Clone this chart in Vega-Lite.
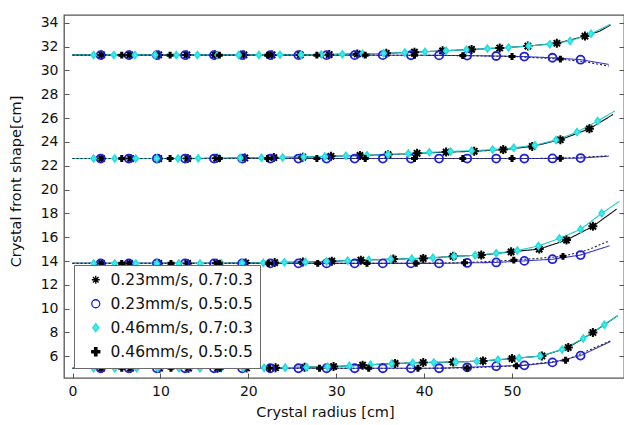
{
  "$schema": "https://vega.github.io/schema/vega-lite/v6.json",
  "width": 560,
  "height": 363,
  "autosize": {"type": "none"},
  "padding": {"left": 64, "top": 15, "right": 0, "bottom": 47},
  "background": "white",
  "config": {
    "font": "DejaVu Sans",
    "view": {"stroke": "#555555", "strokeWidth": 1.3},
    "legend": {"orient": "bottom-left", "offset": 10,
      "labelFontSize": 15.5, "labelColor": "#111111", "labelLimit": 300,
      "symbolSize": 64, "symbolStrokeWidth": 1.3, "symbolOffset": 7, "labelOffset": 7, "rowPadding": 7, "padding": 7,
      "strokeColor": "#6a6a6a", "fillColor": "white", "cornerRadius": 0}
  },
  "datasets": {
    "d": [
      {"s":"A","g":1,"x":0,"y":31.3,"m":0},
      {"s":"A","g":1,"x":3.3,"y":31.3,"m":1},{"s":"A","g":1,"x":6.5,"y":31.3,"m":1},{"s":"A","g":1,"x":9.8,"y":31.3,"m":1},{"s":"A","g":1,"x":13.0,"y":31.3,"m":1},{"s":"A","g":1,"x":16.2,"y":31.3,"m":1},{"s":"A","g":1,"x":19.5,"y":31.3,"m":1},{"s":"A","g":1,"x":22.7,"y":31.3,"m":1},{"s":"A","g":1,"x":25.9,"y":31.31,"m":1},{"s":"A","g":1,"x":29.2,"y":31.33,"m":1},{"s":"A","g":1,"x":32.4,"y":31.38,"m":1},{"s":"A","g":1,"x":35.7,"y":31.44,"m":1},{"s":"A","g":1,"x":38.9,"y":31.53,"m":1},{"s":"A","g":1,"x":42.1,"y":31.64,"m":1},{"s":"A","g":1,"x":45.4,"y":31.76,"m":1},{"s":"A","g":1,"x":48.6,"y":31.88,"m":1},{"s":"A","g":1,"x":51.8,"y":32.04,"m":1},{"s":"A","g":1,"x":55.1,"y":32.28,"m":1},{"s":"A","g":1,"x":58.3,"y":32.88,"m":1},
      {"s":"A","g":1,"x":60.0,"y":33.3,"m":0},{"s":"A","g":1,"x":61.2,"y":33.8,"m":0},

      {"s":"B","g":1,"x":0,"y":31.28,"m":0},
      {"s":"B","g":1,"x":3.2,"y":31.28,"m":1},{"s":"B","g":1,"x":6.4,"y":31.28,"m":1},{"s":"B","g":1,"x":9.6,"y":31.28,"m":1},{"s":"B","g":1,"x":12.8,"y":31.28,"m":1},{"s":"B","g":1,"x":16.1,"y":31.28,"m":1},{"s":"B","g":1,"x":19.3,"y":31.28,"m":1},{"s":"B","g":1,"x":22.5,"y":31.28,"m":1},{"s":"B","g":1,"x":25.7,"y":31.28,"m":1},{"s":"B","g":1,"x":28.9,"y":31.28,"m":1},{"s":"B","g":1,"x":32.1,"y":31.28,"m":1},{"s":"B","g":1,"x":35.3,"y":31.28,"m":1},{"s":"B","g":1,"x":38.5,"y":31.27,"m":1},{"s":"B","g":1,"x":41.7,"y":31.26,"m":1},{"s":"B","g":1,"x":44.9,"y":31.24,"m":1},{"s":"B","g":1,"x":48.2,"y":31.21,"m":1},{"s":"B","g":1,"x":51.4,"y":31.16,"m":1},{"s":"B","g":1,"x":54.6,"y":31.06,"m":1},{"s":"B","g":1,"x":57.8,"y":30.9,"m":1},
      {"s":"B","g":1,"x":61.0,"y":30.5,"m":0},

      {"s":"C","g":1,"x":0,"y":31.3,"m":0},
      {"s":"C","g":1,"x":2.4,"y":31.3,"m":1},{"s":"C","g":1,"x":4.7,"y":31.3,"m":1},{"s":"C","g":1,"x":7.1,"y":31.3,"m":1},{"s":"C","g":1,"x":9.4,"y":31.3,"m":1},{"s":"C","g":1,"x":11.8,"y":31.3,"m":1},{"s":"C","g":1,"x":14.2,"y":31.3,"m":1},{"s":"C","g":1,"x":16.5,"y":31.3,"m":1},{"s":"C","g":1,"x":18.9,"y":31.3,"m":1},{"s":"C","g":1,"x":21.2,"y":31.3,"m":1},{"s":"C","g":1,"x":23.6,"y":31.31,"m":1},{"s":"C","g":1,"x":26.0,"y":31.31,"m":1},{"s":"C","g":1,"x":28.3,"y":31.33,"m":1},{"s":"C","g":1,"x":30.7,"y":31.35,"m":1},{"s":"C","g":1,"x":33.0,"y":31.39,"m":1},{"s":"C","g":1,"x":35.4,"y":31.43,"m":1},{"s":"C","g":1,"x":37.8,"y":31.5,"m":1},{"s":"C","g":1,"x":40.1,"y":31.56,"m":1},{"s":"C","g":1,"x":42.5,"y":31.65,"m":1},{"s":"C","g":1,"x":44.8,"y":31.73,"m":1},{"s":"C","g":1,"x":47.2,"y":31.83,"m":1},{"s":"C","g":1,"x":49.6,"y":31.93,"m":1},{"s":"C","g":1,"x":51.9,"y":32.05,"m":1},{"s":"C","g":1,"x":54.3,"y":32.2,"m":1},{"s":"C","g":1,"x":56.6,"y":32.47,"m":1},{"s":"C","g":1,"x":59.0,"y":33.07,"m":1},
      {"s":"C","g":1,"x":61.2,"y":33.88,"m":0},

      {"s":"D","g":1,"x":0,"y":31.28,"m":0},
      {"s":"D","g":1,"x":5.6,"y":31.28,"m":1},{"s":"D","g":1,"x":11.1,"y":31.28,"m":1},{"s":"D","g":1,"x":16.7,"y":31.28,"m":1},{"s":"D","g":1,"x":22.2,"y":31.28,"m":1},{"s":"D","g":1,"x":27.8,"y":31.28,"m":1},{"s":"D","g":1,"x":33.3,"y":31.28,"m":1},{"s":"D","g":1,"x":38.9,"y":31.27,"m":1},{"s":"D","g":1,"x":44.4,"y":31.24,"m":1},{"s":"D","g":1,"x":50.0,"y":31.17,"m":1},{"s":"D","g":1,"x":55.5,"y":30.95,"m":1},
      {"s":"D","g":1,"x":58.3,"y":30.72,"m":0},{"s":"D","g":1,"x":61.0,"y":30.36,"m":0},

      {"s":"A","g":2,"x":0,"y":22.6,"m":0},
      {"s":"A","g":2,"x":3.3,"y":22.6,"m":1},{"s":"A","g":2,"x":6.6,"y":22.6,"m":1},{"s":"A","g":2,"x":9.8,"y":22.6,"m":1},{"s":"A","g":2,"x":13.1,"y":22.6,"m":1},{"s":"A","g":2,"x":16.4,"y":22.62,"m":1},{"s":"A","g":2,"x":19.6,"y":22.65,"m":1},{"s":"A","g":2,"x":22.9,"y":22.68,"m":1},{"s":"A","g":2,"x":26.2,"y":22.72,"m":1},{"s":"A","g":2,"x":29.4,"y":22.79,"m":1},{"s":"A","g":2,"x":32.7,"y":22.86,"m":1},{"s":"A","g":2,"x":35.9,"y":22.93,"m":1},{"s":"A","g":2,"x":39.2,"y":23.04,"m":1},{"s":"A","g":2,"x":42.5,"y":23.14,"m":1},{"s":"A","g":2,"x":45.7,"y":23.21,"m":1},{"s":"A","g":2,"x":49.0,"y":23.35,"m":1},{"s":"A","g":2,"x":52.3,"y":23.62,"m":1},{"s":"A","g":2,"x":55.5,"y":24.18,"m":1},{"s":"A","g":2,"x":58.8,"y":25.1,"m":1},
      {"s":"A","g":2,"x":61.5,"y":26.3,"m":0},

      {"s":"B","g":2,"x":0,"y":22.6,"m":0},
      {"s":"B","g":2,"x":3.2,"y":22.6,"m":1},{"s":"B","g":2,"x":6.4,"y":22.6,"m":1},{"s":"B","g":2,"x":9.6,"y":22.6,"m":1},{"s":"B","g":2,"x":12.8,"y":22.6,"m":1},{"s":"B","g":2,"x":16.1,"y":22.6,"m":1},{"s":"B","g":2,"x":19.3,"y":22.6,"m":1},{"s":"B","g":2,"x":22.5,"y":22.6,"m":1},{"s":"B","g":2,"x":25.7,"y":22.6,"m":1},{"s":"B","g":2,"x":28.9,"y":22.6,"m":1},{"s":"B","g":2,"x":32.1,"y":22.6,"m":1},{"s":"B","g":2,"x":35.3,"y":22.6,"m":1},{"s":"B","g":2,"x":38.5,"y":22.6,"m":1},{"s":"B","g":2,"x":41.7,"y":22.6,"m":1},{"s":"B","g":2,"x":44.9,"y":22.6,"m":1},{"s":"B","g":2,"x":48.2,"y":22.6,"m":1},{"s":"B","g":2,"x":51.4,"y":22.6,"m":1},{"s":"B","g":2,"x":54.6,"y":22.61,"m":1},{"s":"B","g":2,"x":57.8,"y":22.64,"m":1},
      {"s":"B","g":2,"x":61.0,"y":22.8,"m":0},

      {"s":"C","g":2,"x":0,"y":22.6,"m":0},
      {"s":"C","g":2,"x":2.4,"y":22.6,"m":1},{"s":"C","g":2,"x":4.8,"y":22.6,"m":1},{"s":"C","g":2,"x":7.2,"y":22.6,"m":1},{"s":"C","g":2,"x":9.6,"y":22.6,"m":1},{"s":"C","g":2,"x":12.0,"y":22.61,"m":1},{"s":"C","g":2,"x":14.3,"y":22.62,"m":1},{"s":"C","g":2,"x":16.7,"y":22.63,"m":1},{"s":"C","g":2,"x":19.1,"y":22.65,"m":1},{"s":"C","g":2,"x":21.5,"y":22.67,"m":1},{"s":"C","g":2,"x":23.9,"y":22.69,"m":1},{"s":"C","g":2,"x":26.3,"y":22.73,"m":1},{"s":"C","g":2,"x":28.7,"y":22.78,"m":1},{"s":"C","g":2,"x":31.1,"y":22.83,"m":1},{"s":"C","g":2,"x":33.5,"y":22.88,"m":1},{"s":"C","g":2,"x":35.9,"y":22.94,"m":1},{"s":"C","g":2,"x":38.2,"y":23.03,"m":1},{"s":"C","g":2,"x":40.6,"y":23.12,"m":1},{"s":"C","g":2,"x":43.0,"y":23.2,"m":1},{"s":"C","g":2,"x":45.4,"y":23.26,"m":1},{"s":"C","g":2,"x":47.8,"y":23.35,"m":1},{"s":"C","g":2,"x":50.2,"y":23.5,"m":1},{"s":"C","g":2,"x":52.6,"y":23.72,"m":1},{"s":"C","g":2,"x":55.0,"y":24.15,"m":1},{"s":"C","g":2,"x":57.4,"y":24.82,"m":1},{"s":"C","g":2,"x":59.75,"y":25.75,"m":1},
      {"s":"C","g":2,"x":61.7,"y":26.6,"m":0},

      {"s":"D","g":2,"x":0,"y":22.6,"m":0},
      {"s":"D","g":2,"x":5.6,"y":22.6,"m":1},{"s":"D","g":2,"x":11.1,"y":22.6,"m":1},{"s":"D","g":2,"x":16.7,"y":22.6,"m":1},{"s":"D","g":2,"x":22.2,"y":22.6,"m":1},{"s":"D","g":2,"x":27.8,"y":22.6,"m":1},{"s":"D","g":2,"x":33.3,"y":22.6,"m":1},{"s":"D","g":2,"x":38.9,"y":22.6,"m":1},{"s":"D","g":2,"x":44.4,"y":22.6,"m":1},{"s":"D","g":2,"x":50.0,"y":22.6,"m":1},{"s":"D","g":2,"x":55.5,"y":22.62,"m":1},
      {"s":"D","g":2,"x":61.0,"y":22.83,"m":0},

      {"s":"A","g":3,"x":0,"y":13.8,"m":0},
      {"s":"A","g":3,"x":3.3,"y":13.8,"m":1},{"s":"A","g":3,"x":6.5,"y":13.8,"m":1},{"s":"A","g":3,"x":9.8,"y":13.8,"m":1},{"s":"A","g":3,"x":13.1,"y":13.8,"m":1},{"s":"A","g":3,"x":16.4,"y":13.81,"m":1},{"s":"A","g":3,"x":19.7,"y":13.83,"m":1},{"s":"A","g":3,"x":23.0,"y":13.87,"m":1},{"s":"A","g":3,"x":26.2,"y":13.92,"m":1},{"s":"A","g":3,"x":29.5,"y":13.99,"m":1},{"s":"A","g":3,"x":32.8,"y":14.07,"m":1},{"s":"A","g":3,"x":36.5,"y":14.16,"m":1},{"s":"A","g":3,"x":39.9,"y":14.22,"m":1},{"s":"A","g":3,"x":43.3,"y":14.39,"m":1},{"s":"A","g":3,"x":46.5,"y":14.5,"m":1},{"s":"A","g":3,"x":49.9,"y":14.77,"m":1},{"s":"A","g":3,"x":53.1,"y":15.0,"m":1},{"s":"A","g":3,"x":56.2,"y":15.76,"m":1},{"s":"A","g":3,"x":59.2,"y":16.91,"m":1},
      {"s":"A","g":3,"x":61.9,"y":18.36,"m":0},

      {"s":"B","g":3,"x":0,"y":13.8,"m":0},
      {"s":"B","g":3,"x":3.2,"y":13.8,"m":1},{"s":"B","g":3,"x":6.4,"y":13.8,"m":1},{"s":"B","g":3,"x":9.6,"y":13.8,"m":1},{"s":"B","g":3,"x":12.8,"y":13.8,"m":1},{"s":"B","g":3,"x":16.1,"y":13.8,"m":1},{"s":"B","g":3,"x":19.3,"y":13.8,"m":1},{"s":"B","g":3,"x":22.5,"y":13.8,"m":1},{"s":"B","g":3,"x":25.7,"y":13.8,"m":1},{"s":"B","g":3,"x":28.9,"y":13.8,"m":1},{"s":"B","g":3,"x":32.1,"y":13.8,"m":1},{"s":"B","g":3,"x":35.3,"y":13.8,"m":1},{"s":"B","g":3,"x":38.5,"y":13.8,"m":1},{"s":"B","g":3,"x":41.7,"y":13.8,"m":1},{"s":"B","g":3,"x":44.9,"y":13.84,"m":1},{"s":"B","g":3,"x":48.2,"y":13.88,"m":1},{"s":"B","g":3,"x":51.4,"y":14.01,"m":1},{"s":"B","g":3,"x":54.6,"y":14.15,"m":1},{"s":"B","g":3,"x":57.8,"y":14.5,"m":1},
      {"s":"B","g":3,"x":61.1,"y":15.28,"m":0},

      {"s":"C","g":3,"x":0,"y":13.8,"m":0},
      {"s":"C","g":3,"x":2.4,"y":13.8,"m":1},{"s":"C","g":3,"x":4.8,"y":13.8,"m":1},{"s":"C","g":3,"x":7.2,"y":13.8,"m":1},{"s":"C","g":3,"x":9.6,"y":13.8,"m":1},{"s":"C","g":3,"x":12.1,"y":13.8,"m":1},{"s":"C","g":3,"x":14.5,"y":13.8,"m":1},{"s":"C","g":3,"x":16.9,"y":13.81,"m":1},{"s":"C","g":3,"x":19.3,"y":13.83,"m":1},{"s":"C","g":3,"x":21.7,"y":13.85,"m":1},{"s":"C","g":3,"x":24.1,"y":13.89,"m":1},{"s":"C","g":3,"x":26.5,"y":13.92,"m":1},{"s":"C","g":3,"x":28.9,"y":13.97,"m":1},{"s":"C","g":3,"x":31.3,"y":14.03,"m":1},{"s":"C","g":3,"x":33.7,"y":14.09,"m":1},{"s":"C","g":3,"x":36.2,"y":14.15,"m":1},{"s":"C","g":3,"x":38.6,"y":14.2,"m":1},{"s":"C","g":3,"x":41.0,"y":14.28,"m":1},{"s":"C","g":3,"x":43.4,"y":14.39,"m":1},{"s":"C","g":3,"x":45.8,"y":14.48,"m":1},{"s":"C","g":3,"x":48.2,"y":14.65,"m":1},{"s":"C","g":3,"x":50.6,"y":14.88,"m":1},{"s":"C","g":3,"x":53.0,"y":15.26,"m":1},{"s":"C","g":3,"x":55.4,"y":15.9,"m":1},{"s":"C","g":3,"x":57.8,"y":16.66,"m":1},{"s":"C","g":3,"x":60.2,"y":18.0,"m":1},
      {"s":"C","g":3,"x":62.2,"y":19.0,"m":0},

      {"s":"D","g":3,"x":0,"y":13.8,"m":0},
      {"s":"D","g":3,"x":5.6,"y":13.8,"m":1},{"s":"D","g":3,"x":11.2,"y":13.8,"m":1},{"s":"D","g":3,"x":16.7,"y":13.8,"m":1},{"s":"D","g":3,"x":22.3,"y":13.8,"m":1},{"s":"D","g":3,"x":27.9,"y":13.8,"m":1},{"s":"D","g":3,"x":33.5,"y":13.8,"m":1},{"s":"D","g":3,"x":39.1,"y":13.81,"m":1},{"s":"D","g":3,"x":44.6,"y":13.86,"m":1},{"s":"D","g":3,"x":50.2,"y":14.07,"m":1},{"s":"D","g":3,"x":55.8,"y":14.39,"m":1},
      {"s":"D","g":3,"x":58.5,"y":14.9,"m":0},{"s":"D","g":3,"x":61.1,"y":15.7,"m":0},

      {"s":"A","g":4,"x":0,"y":5.0,"m":0},
      {"s":"A","g":4,"x":3.3,"y":5.0,"m":1},{"s":"A","g":4,"x":6.6,"y":5.0,"m":1},{"s":"A","g":4,"x":9.9,"y":5.0,"m":1},{"s":"A","g":4,"x":13.2,"y":5.0,"m":1},{"s":"A","g":4,"x":16.5,"y":5.0,"m":1},{"s":"A","g":4,"x":19.8,"y":5.02,"m":1},{"s":"A","g":4,"x":23.1,"y":5.04,"m":1},{"s":"A","g":4,"x":26.4,"y":5.08,"m":1},{"s":"A","g":4,"x":29.7,"y":5.14,"m":1},{"s":"A","g":4,"x":33.0,"y":5.26,"m":1},{"s":"A","g":4,"x":36.7,"y":5.4,"m":1},{"s":"A","g":4,"x":39.9,"y":5.48,"m":1},{"s":"A","g":4,"x":43.3,"y":5.52,"m":1},{"s":"A","g":4,"x":46.7,"y":5.61,"m":1},{"s":"A","g":4,"x":50.0,"y":5.81,"m":1},{"s":"A","g":4,"x":53.4,"y":6.03,"m":1},{"s":"A","g":4,"x":56.4,"y":6.74,"m":1},{"s":"A","g":4,"x":59.2,"y":8.0,"m":1},
      {"s":"A","g":4,"x":62.0,"y":9.4,"m":0},

      {"s":"B","g":4,"x":0,"y":5.0,"m":0},
      {"s":"B","g":4,"x":3.2,"y":5.0,"m":1},{"s":"B","g":4,"x":6.4,"y":5.0,"m":1},{"s":"B","g":4,"x":9.6,"y":5.0,"m":1},{"s":"B","g":4,"x":12.8,"y":5.0,"m":1},{"s":"B","g":4,"x":16.1,"y":5.0,"m":1},{"s":"B","g":4,"x":19.3,"y":5.0,"m":1},{"s":"B","g":4,"x":22.5,"y":5.0,"m":1},{"s":"B","g":4,"x":25.7,"y":5.0,"m":1},{"s":"B","g":4,"x":28.9,"y":5.0,"m":1},{"s":"B","g":4,"x":32.1,"y":5.0,"m":1},{"s":"B","g":4,"x":35.3,"y":5.0,"m":1},{"s":"B","g":4,"x":38.5,"y":5.0,"m":1},{"s":"B","g":4,"x":41.7,"y":5.0,"m":1},{"s":"B","g":4,"x":44.9,"y":5.08,"m":1},{"s":"B","g":4,"x":48.2,"y":5.17,"m":1},{"s":"B","g":4,"x":51.4,"y":5.24,"m":1},{"s":"B","g":4,"x":54.6,"y":5.49,"m":1},{"s":"B","g":4,"x":57.8,"y":6.06,"m":1},
      {"s":"B","g":4,"x":61.2,"y":7.24,"m":0},

      {"s":"C","g":4,"x":0,"y":5.0,"m":0},
      {"s":"C","g":4,"x":2.4,"y":5.0,"m":1},{"s":"C","g":4,"x":4.8,"y":5.0,"m":1},{"s":"C","g":4,"x":7.3,"y":5.0,"m":1},{"s":"C","g":4,"x":9.7,"y":5.0,"m":1},{"s":"C","g":4,"x":12.1,"y":5.0,"m":1},{"s":"C","g":4,"x":14.5,"y":5.0,"m":1},{"s":"C","g":4,"x":16.9,"y":5.0,"m":1},{"s":"C","g":4,"x":19.4,"y":5.01,"m":1},{"s":"C","g":4,"x":21.8,"y":5.03,"m":1},{"s":"C","g":4,"x":24.2,"y":5.05,"m":1},{"s":"C","g":4,"x":26.6,"y":5.09,"m":1},{"s":"C","g":4,"x":29.0,"y":5.13,"m":1},{"s":"C","g":4,"x":31.5,"y":5.2,"m":1},{"s":"C","g":4,"x":33.9,"y":5.29,"m":1},{"s":"C","g":4,"x":36.3,"y":5.38,"m":1},{"s":"C","g":4,"x":38.7,"y":5.45,"m":1},{"s":"C","g":4,"x":41.1,"y":5.49,"m":1},{"s":"C","g":4,"x":43.6,"y":5.53,"m":1},{"s":"C","g":4,"x":46.0,"y":5.58,"m":1},{"s":"C","g":4,"x":48.4,"y":5.71,"m":1},{"s":"C","g":4,"x":50.8,"y":5.86,"m":1},{"s":"C","g":4,"x":53.2,"y":6.02,"m":1},{"s":"C","g":4,"x":55.7,"y":6.57,"m":1},{"s":"C","g":4,"x":58.1,"y":7.5,"m":1},{"s":"C","g":4,"x":60.5,"y":8.65,"m":1},
      {"s":"C","g":4,"x":62.0,"y":9.4,"m":0},

      {"s":"D","g":4,"x":0,"y":5.0,"m":0},
      {"s":"D","g":4,"x":5.6,"y":5.0,"m":1},{"s":"D","g":4,"x":11.2,"y":5.0,"m":1},{"s":"D","g":4,"x":16.8,"y":5.0,"m":1},{"s":"D","g":4,"x":22.4,"y":5.0,"m":1},{"s":"D","g":4,"x":28.1,"y":5.0,"m":1},{"s":"D","g":4,"x":33.7,"y":5.0,"m":1},{"s":"D","g":4,"x":39.3,"y":5.0,"m":1},{"s":"D","g":4,"x":44.9,"y":5.02,"m":1},{"s":"D","g":4,"x":50.5,"y":5.2,"m":1},{"s":"D","g":4,"x":56.1,"y":5.67,"m":1},
      {"s":"D","g":4,"x":61.2,"y":7.3,"m":0}
    ]
  },
  "data": {"name": "d"},
  "layer": [
    {
      "mark": {"type": "line", "strokeWidth": 1.1, "clip": true},
      "encoding": {
        "x": {"field": "x", "type": "quantitative",
          "scale": {"domain": [-0.97, 62.74], "nice": false, "zero": false},
          "axis": {"values": [0, 10, 20, 30, 40, 50], "title": "Crystal radius [cm]", "grid": false, "domain": false,
            "tickSize": -5, "tickColor": "#555555", "labelPadding": 11, "labelFontSize": 14, "labelColor": "#111111", "labelFlush": false,
            "titleFontSize": 14.5, "titleFontWeight": "normal", "titleColor": "#111111", "titleX": 261, "titleY": 27, "titleBaseline": "top", "titleAlign": "center"}},
        "y": {"field": "y", "type": "quantitative",
          "scale": {"domain": [4.18, 34.65], "nice": false, "zero": false},
          "axis": {"values": [6, 8, 10, 12, 14, 16, 18, 20, 22, 24, 26, 28, 30, 32, 34], "title": "Crystal front shape[cm]", "grid": false, "domain": false,
            "tickSize": -5, "tickColor": "#555555", "labelPadding": 11, "labelFontSize": 14, "labelColor": "#111111",
            "titleFontSize": 14.5, "titleFontWeight": "normal", "titleColor": "#111111", "titleX": -48, "titleY": 166, "titleAngle": 270, "titleBaseline": "middle", "titleAlign": "center"}},
        "color": {"field": "s", "type": "nominal", "scale": {"range": ["#111111", "#3b3bcc", "#22c8c8", "#222222"]}, "legend": null},
        "strokeDash": {"field": "s", "type": "nominal", "scale": {"range": [[1, 0], [1, 0], [1, 0], [2, 2]]}, "legend": null},
        "detail": {"field": "g", "type": "nominal"},
        "order": {"field": "x", "type": "quantitative"}
      }
    },
    {
      "transform": [{"filter": "datum.m == 1"}],
      "mark": {"type": "point", "opacity": 1, "clip": true},
      "encoding": {
        "x": {"field": "x", "type": "quantitative"},
        "y": {"field": "y", "type": "quantitative", "axis": null},
        "shape": {"field": "s", "type": "nominal",
          "scale": {"domain": ["A", "B", "C", "D"], "range": [
            "M-1,0L1,0M0,-1L0,1M-0.7,-0.7L0.7,0.7M-0.7,0.7L0.7,-0.7",
            "circle",
            "M0,-1L0.75,0L0,1L-0.75,0Z",
            "M-1,-0.3L-0.3,-0.3L-0.3,-1L0.3,-1L0.3,-0.3L1,-0.3L1,0.3L0.3,0.3L0.3,1L-0.3,1L-0.3,0.3L-1,0.3Z"]},
          "legend": {"title": null,
            "labelExpr": "datum.label == 'A' ? '0.23mm/s, 0.7:0.3' : datum.label == 'B' ? '0.23mm/s, 0.5:0.5' : datum.label == 'C' ? '0.46mm/s, 0.7:0.3' : '0.46mm/s, 0.5:0.5'",
            "encode": {
              "legend": {"strokeWidth": {"value": 2}}
            }}},
        "stroke": {"field": "s", "type": "nominal", "scale": {"domain": ["A", "B", "C", "D"], "range": ["#000000", "#1f1fe0", "#22dede", "#000000"]},
          "legend": {"title": null}},
        "fill": {"field": "s", "type": "nominal", "scale": {"domain": ["A", "B", "C", "D"], "range": ["transparent", "transparent", "#44eeee", "#000000"]},
          "legend": {"title": null}},
        "size": {"field": "s", "type": "nominal", "scale": {"range": [81, 30, 49, 42]}, "legend": null},
        "strokeWidth": {"field": "s", "type": "nominal", "scale": {"range": [2, 1.4, 0.8, 0.5]}, "legend": null}
      }
    },
    {
      "mark": {"type": "point", "opacity": 0},
      "encoding": {
        "y": {"field": "y", "type": "quantitative",
          "axis": {"orient": "right", "values": [6, 8, 10, 12, 14, 16, 18, 20, 22, 24, 26, 28, 30, 32, 34], "labels": false, "title": null, "grid": false, "domain": false, "tickSize": -5, "tickColor": "#555555"}}
      }
    }
  ],
  "resolve": {"axis": {"y": "independent"}}
}
